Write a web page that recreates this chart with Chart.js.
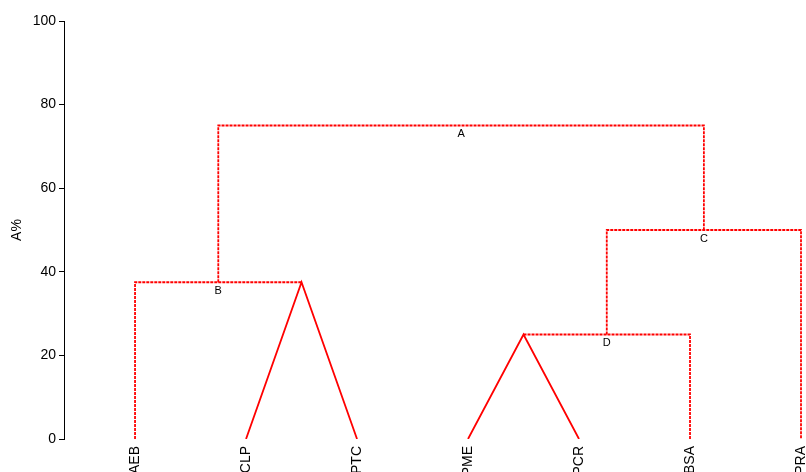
<!DOCTYPE html>
<html>
<head>
<meta charset="utf-8">
<script src="https://cdn.jsdelivr.net/npm/chart.js@4/dist/chart.umd.min.js"></script>
<style>
  html, body { margin: 0; padding: 0; background: #fff; }
  #wrap { width: 806px; height: 472px; }
</style>
</head>
<body>
<div id="wrap"><canvas id="myChart"></canvas></div>
<script>
// leaves of the dendrogram, left to right
const leafLabels = ["AEB", "CLP", "PTC", "PME", "PCR", "BSA", "PRA"];

// merges, in order: children are leaf names or "n<index>" of an earlier merge
const nodeLeft = ["CLP", "PME", "AEB", "n1", "n3", "n2"];
const nodeRight = ["PTC", "PCR", "n0", "BSA", "PRA", "n4"];
const nodeHeights = [37.5, 25, 37.5, 25, 50, 75];
const nodeLabels = ["", "", "B", "D", "C", "A"];

const yTicks = [0, 20, 40, 60, 80, 100];

// work out x / height for each child reference
const nodeX = [];
function pos(ref) {
  if (ref[0] === "n" && !leafLabels.includes(ref)) {
    const i = +ref.slice(1);
    return { x: nodeX[i], y: nodeHeights[i], leaf: false };
  }
  return { x: leafLabels.indexOf(ref), y: 0, leaf: true };
}

const segments = [];
nodeLeft.forEach((l, i) => {
  const a = pos(l), b = pos(nodeRight[i]);
  const h = nodeHeights[i];
  nodeX[i] = (a.x + b.x) / 2;
  if (a.leaf && b.leaf) {
    // both leaves: drawn as a V
    segments.push({ pts: [{ x: a.x, y: a.y }, { x: nodeX[i], y: h }, { x: b.x, y: b.y }], dash: [] });
  } else {
    segments.push({ pts: [{ x: a.x, y: a.y }, { x: a.x, y: h }, { x: b.x, y: h }, { x: b.x, y: b.y }], dash: [3, 1] });
  }
});

const datasets = segments.map(s => ({
  data: s.pts,
  showLine: true,
  borderColor: "#ff0000",
  borderWidth: 1.8,
  borderDash: s.dash,
  pointRadius: 0,
  tension: 0,
  fill: false
}));

const labelsPlugin = {
  id: "dendroLabels",
  afterDraw(chart) {
    const ctx = chart.ctx;
    const xs = chart.scales.x, ys = chart.scales.y;
    ctx.save();
    ctx.fillStyle = "#000";
    ctx.font = "11px 'Liberation Sans', Arial, sans-serif";
    ctx.textAlign = "center";
    ctx.textBaseline = "top";
    nodeLabels.forEach((t, i) => {
      if (!t) return;
      ctx.fillText(t, xs.getPixelForValue(nodeX[i]), ys.getPixelForValue(nodeHeights[i]) + 3);
    });
    ctx.font = "14px 'Liberation Sans', Arial, sans-serif";
    ctx.textAlign = "right";
    ctx.textBaseline = "middle";
    leafLabels.forEach((t, i) => {
      ctx.save();
      ctx.translate(xs.getPixelForValue(i), ys.getPixelForValue(0) + 7);
      ctx.rotate(-Math.PI / 2);
      ctx.fillText(t, 0, 0);
      ctx.restore();
    });
    ctx.restore();
  }
};

new Chart(document.getElementById("myChart"), {
  type: "scatter",
  data: { datasets },
  plugins: [labelsPlugin],
  options: {
    responsive: true,
    maintainAspectRatio: false,
    animation: false,
    layout: { padding: { top: 21, bottom: 33, left: 0, right: 0 } },
    plugins: { legend: { display: false }, tooltip: { enabled: false } },
    scales: {
      x: {
        type: "linear",
        display: false,
        min: -0.64,
        max: 6.045
      },
      y: {
        min: 0,
        max: 100,
        afterFit(scale) { scale.width = 64; },
        afterBuildTicks(scale) { scale.ticks = yTicks.map(v => ({ value: v })); },
        border: { display: true, color: "#000", width: 1 },
        grid: { drawOnChartArea: false, drawTicks: true, tickLength: 5, color: "#000" },
        ticks: {
          color: "#000",
          padding: 3,
          font: { family: "'Liberation Sans', Arial, sans-serif", size: 14 }
        },
        title: {
          display: true,
          text: "A%",
          color: "#000",
          padding: { top: 9, bottom: 4 },
          font: { family: "'Liberation Sans', Arial, sans-serif", size: 14 }
        }
      }
    }
  }
});
</script>
</body>
</html>
